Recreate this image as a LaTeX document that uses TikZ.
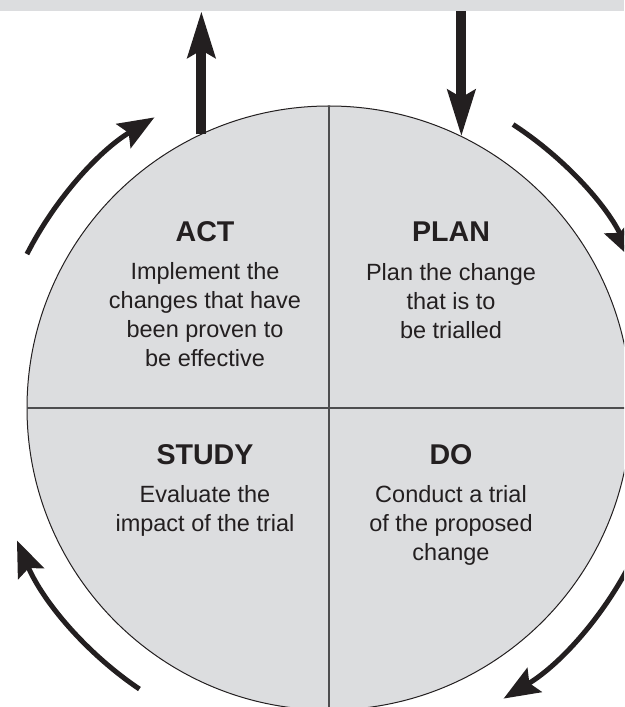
\documentclass[tikz,border=0pt]{standalone}
\usepackage{fontspec}
\setmainfont{Liberation Sans}
\usetikzlibrary{arrows.meta,calc}
\definecolor{pdsa}{HTML}{DCDDDF}
\definecolor{ink}{HTML}{231F20}
\definecolor{rulegray}{HTML}{4D4D4F}
\begin{document}
\begin{tikzpicture}[x=1pt,y=1pt,
  headtext/.style={font=\fontsize{28.6}{30}\selectfont\bfseries, text=ink, inner sep=0pt, anchor=base},
  bodytext/.style={font=\fontsize{23.5}{29}\selectfont, text=ink, inner sep=0pt, anchor=base, align=center},
  bigarrow/.style={draw=ink, line width=10pt, -{Stealth[length=46pt,width=27pt,inset=7pt]}},
  cyclearrow/.style={draw=ink, line width=5pt, -{Stealth[length=36pt,width=28pt,inset=6pt]}},
  divider/.style={draw=rulegray, line width=1.3pt}
]
\clip (0,0) rectangle (624,707);
\node[fill=pdsa, minimum width=624pt, minimum height=11pt, inner sep=0pt, outer sep=0pt, anchor=north west] (band) at (0,707) {};
\node[circle, fill=pdsa, draw=ink, line width=1pt, minimum size=604pt, inner sep=0pt, outer sep=0pt] (cyc) at (329,299) {};
\draw[divider] (cyc.north) -- (cyc.south);
\draw[divider] (cyc.west) -- (cyc.east);

\node[headtext] (act) at (205,465) {ACT};
\node[headtext] (plan) at (451,465) {PLAN};
\node[headtext] (study) at (205,242) {STUDY};
\node[headtext] (do) at (451,242) {DO};

% anchor=base of a multi-line node is the baseline of its last line
\node[bodytext] (actb) at (205,340) {Implement the\\changes that have\\been proven to\\be effective};
\node[bodytext] (planb) at (451,368) {Plan the change\\that is to\\be trialled};
\node[bodytext] (studyb) at (205,175) {Evaluate the\\impact of the trial};
\node[bodytext] (dob) at (451,146) {Conduct a trial\\of the proposed\\change};

\draw[bigarrow] (cyc.115.1) -- (cyc.115.1 |- band.south);
\draw[bigarrow] (cyc.64.9 |- band.south) -- (cyc.64.9);

\draw[cyclearrow] ($(cyc.center)+(153:339)$) arc[start angle=153, end angle=121, radius=339];
\draw[cyclearrow] ($(cyc.center)+(57:338)$) arc[start angle=57, end angle=26, radius=338];
\draw[cyclearrow] ($(cyc.center)+(-26:339)$) arc[start angle=-26, end angle=-59, radius=339];
\draw[cyclearrow] ($(cyc.center)+(-124:339)$) arc[start angle=-124, end angle=-157, radius=339];
\end{tikzpicture}
\end{document}
